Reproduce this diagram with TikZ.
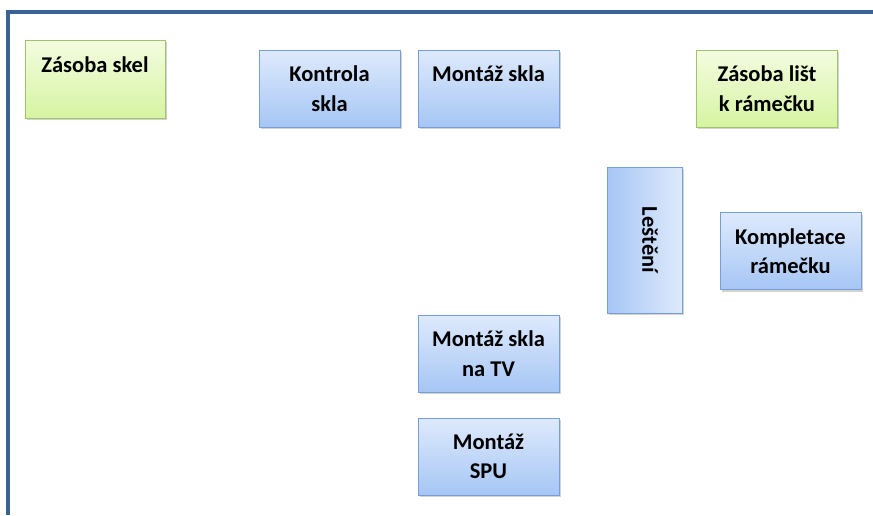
\documentclass[tikz,border=0pt]{standalone}
\usepackage{fontspec}
\setmainfont{Carlito}
\usetikzlibrary{shadows}
\definecolor{framecol}{RGB}{59,98,148}
\definecolor{bluetop}{RGB}{222,234,252}
\definecolor{bluebot}{RGB}{166,198,245}
\definecolor{blueline}{RGB}{120,158,214}
\definecolor{greentop}{RGB}{244,252,224}
\definecolor{greenbot}{RGB}{214,244,162}
\definecolor{greenline}{RGB}{160,196,104}
% leva strana tmavsi
\pgfdeclarehorizontalshading{sideshade}{100bp}{color(0bp)=(bluebot); color(25bp)=(bluebot);
  color(75bp)=(bluetop); color(100bp)=(bluetop)}
\tikzset{
  step box/.style={draw=blueline, line width=1pt, top color=bluetop, bottom color=bluebot,
    minimum width=141pt, minimum height=77pt, align=center, inner sep=0pt,
    font=\fontsize{22.5}{29.5}\selectfont\bfseries,
    drop shadow={opacity=0.35, shadow xshift=1.5pt, shadow yshift=-2pt}},
  stock box/.style={step box, draw=greenline, top color=greentop, bottom color=greenbot}
}
\begin{document}
\begin{tikzpicture}[x=1pt,y=-1pt]
	\useasboundingbox (0,0) rectangle (873,515);
	% ramecek
	\draw[framecol, line width=4pt] (8,515)--(8,12)--(873,12);
	% zasoby
	\node[stock box, minimum width=140pt, minimum height=78pt] (zasobaskel) at (95,79) {Zásoba skel\\\mbox{}};
	\node[stock box] (zasobalist) at (767,88.5) {Zásoba lišt\\k rámečku};
	% operace
	\node[step box] (kontrola) at (329.5,88.5) {Kontrola\\skla};
	\node[step box] (montazskla) at (488.5,88.5) {Montáž skla\\\mbox{}};
	\node[step box, shading=sideshade, shading angle=0, minimum width=75pt, minimum height=146pt]
	  (lesteni) at (644.5,240) {\hspace*{11pt}\rotatebox{-90}{Leštění}};
	\node[step box] (kompletace) at (790.5,251) {Kompletace\\rámečku};
	\node[step box] (montaztv) at (488.5,353.5) {Montáž skla\\na TV};
	\node[step box] (montazspu) at (488.5,456.5) {Montáž\\SPU};
\end{tikzpicture}
\end{document}
